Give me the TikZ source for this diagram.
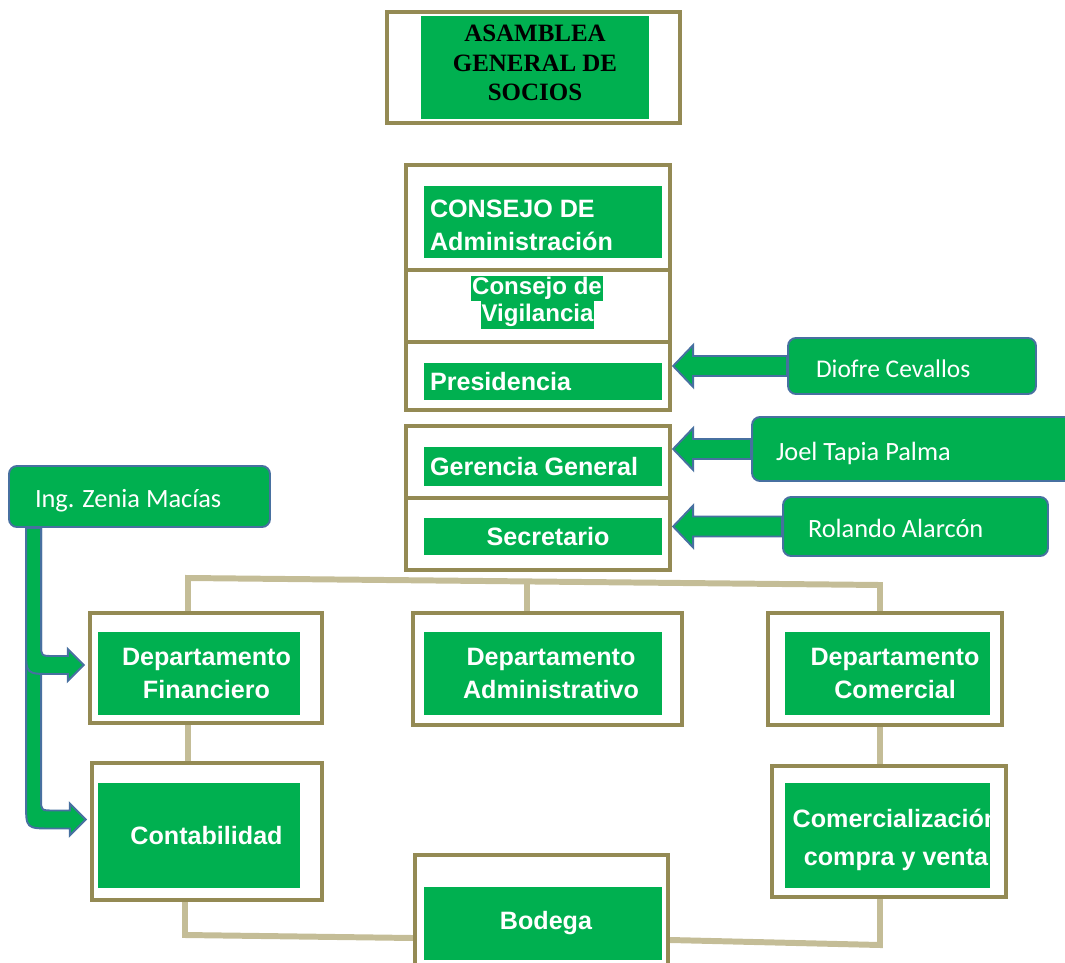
\documentclass[tikz,border=0pt]{standalone}
\usepackage{fontspec}
\usetikzlibrary{calc}
\newfontfamily\arialfont{Liberation Sans}
\newfontfamily\timesfont{Liberation Serif}
\newfontfamily\calibrifont{Carlito}
\definecolor{boxgreen}{RGB}{0,176,80}
\definecolor{frameolive}{RGB}{148,138,84}
\definecolor{linktan}{RGB}{196,189,151}
\definecolor{personblue}{RGB}{71,112,160}
\newcommand{\deptfont}{\arialfont\bfseries\fontsize{14.3}{18.5}\selectfont}
\newcommand{\vigfont}{\arialfont\bfseries\fontsize{13.7}{16}\selectfont}
\newcommand{\asamfont}{\timesfont\bfseries\fontsize{14.2}{16.8}\selectfont}
\newcommand{\namefont}{\calibrifont\fontsize{15}{18}\selectfont}
% block arrow from a name box to the left, onto a frame
\newcommand{\leftblock}[2]{%
  \draw[blockarr] ($(#1.west)+(0,-10)$) -- ($(#2.east |- #1.west)+(21,-10)$) -- ++(0,-11)
    -- ($(#2.east |- #1.west)+(1,0)$) -- ($(#2.east |- #1.west)+(21,21)$) -- ++(0,-11)
    -- ($(#1.west)+(0,10)$) -- cycle;}
% bent block arrow going down from a name box and then right, onto a frame
\newcommand{\bentblock}[3]{%
  \draw[blockarr] ($(#1.south west)+(18,0)$) -- ($(#1.south west |- #2.west)+(18,#3-16)$)
    .. controls ($(#1.south west |- #2.west)+(18,#3+9)$) .. ($(#1.south west |- #2.west)+(44,#3+9)$)
    -- ($(#2.west)+(-20,#3+9)$) -- ++(0,7) -- ($(#2.west)+(-4,#3)$) -- ($(#2.west)+(-20,#3-16)$) -- ++(0,7)
    -- ($(#1.south west |- #2.west)+(46,#3-9)$)
    .. controls ($(#1.south west |- #2.west)+(33,#3-9)$) .. ($(#1.south west |- #2.west)+(33,#3-20)$)
    -- ($(#1.south west)+(33,0)$) -- cycle;}
\begin{document}
\begin{tikzpicture}[x=0.02cm, y=-0.02cm,
    frame/.style={draw=frameolive, line width=2.5pt, fill=white, inner sep=0},
    greenbox/.style={fill=boxgreen, text=white, font=\deptfont, inner sep=0, align=center},
    leftbox/.style={greenbox, align=flush left, inner xsep=0.12cm, text width=4.52cm},
    person/.style={draw=personblue, line width=1.1pt, fill=boxgreen, rounded corners=0.16cm,
      text=white, font=\namefont, align=flush left, inner ysep=0, text height=15pt, text depth=2pt},
    link/.style={draw=linktan, line width=3.4pt},
    blockarr/.style={fill=boxgreen, draw=personblue, line width=1.1pt}]
    \clip (0,0) rectangle (1065,963);

    % Connectors between the departments
    \coordinate (busL) at (188,578);
    \coordinate (busM) at (527,581.5);
    \coordinate (busR) at (880,585);
    \coordinate (botL) at (185,935);
    \coordinate (botR) at (880,945);

    % Frames
    \node[frame, minimum width=5.86cm, minimum height=2.22cm] (asamF) at (533.5,67.5) {};
    \node[frame, minimum width=5.28cm, minimum height=2.1cm] (cadmF) at (538,217.5) {};
    \node[frame, minimum width=5.28cm, minimum height=1.44cm] (cvigF) at (538,306) {};
    \node[frame, minimum width=5.28cm, minimum height=1.36cm] (cpresF) at (538,376) {};
    \node[frame, minimum width=5.28cm, minimum height=1.44cm] (gerF) at (538,462) {};
    \node[frame, minimum width=5.28cm, minimum height=1.44cm] (secF) at (538,534) {};
    \node[frame, minimum width=4.64cm, minimum height=2.2cm] (finF) at (206,668) {};
    \node[frame, minimum width=5.38cm, minimum height=2.24cm] (admF) at (547.5,669) {};
    \node[frame, minimum width=4.68cm, minimum height=2.24cm] (comF) at (885,669) {};
    \node[frame, minimum width=4.6cm, minimum height=2.74cm] (contF) at (207,831.5) {};
    \node[frame, minimum width=4.68cm, minimum height=2.62cm] (comvF) at (889,831.5) {};
    \node[frame, minimum width=5.06cm, minimum height=2.9cm] (bodF) at (541.5,927.5) {};

    \draw[link] (finF.north -| busL) -- (busL) -- (busR) -- (comF.north -| busR);
    \draw[link] (busM) -- (busM |- admF.north);
    \draw[link] (finF.south -| busL) -- (contF.north -| busL);
    \draw[link] (comF.south -| busR) -- (comvF.north -| busR);
    \draw[link] (contF.south -| botL) -- (botL) -- ($(botL -| bodF.west)+(0,3)$);
    \draw[link] ($(botR -| bodF.east)+(0,-5)$) -- (botR) -- (comvF.south -| botR);

    % Green boxes
    \node[greenbox, text=black, font=\asamfont, minimum width=4.56cm, minimum height=2.06cm] (asam) at (535,67.5) {ASAMBLEA\\GENERAL DE\\SOCIOS\rule[-5pt]{0pt}{5pt}};
    \node[leftbox, minimum height=1.44cm] (cadm) at (543,222) {\rule{0pt}{13.5pt}CONSEJO DE\\[0.5pt]Administración};
    \node[greenbox, font=\vigfont, inner xsep=0.5pt, inner ysep=0.3pt, text height=10.3pt, text depth=3.3pt] (vig1) at (537,288.5) {Consejo de};
    \node[greenbox, font=\vigfont, inner xsep=0.5pt, inner ysep=1pt, text height=10.3pt, text depth=3.3pt] (vig2) at (537.5,315) {Vigilancia};
    \node[leftbox, minimum height=0.74cm] (cpres) at (543,381.5) {Presidencia};
    \node[leftbox, minimum height=0.78cm] (ger) at (543,466.5) {Gerencia General};
    \node[greenbox, minimum width=4.76cm, minimum height=0.74cm] (sec) at (543,536.5) {\hspace{0.2cm}Secretario};
    \node[greenbox, minimum width=4.04cm, minimum height=1.66cm] (fin) at (199,673.5) {\hspace{0.3cm}Departamento\\\hspace{0.3cm}Financiero};
    \node[greenbox, minimum width=4.76cm, minimum height=1.66cm] (adm) at (543,673.5) {\hspace{0.32cm}Departamento\\\hspace{0.32cm}Administrativo};
    \node[greenbox, minimum width=4.1cm, minimum height=1.66cm] (com) at (887.5,673.5) {\hspace{0.3cm}Departamento\\\hspace{0.3cm}Comercial};
    \node[greenbox, minimum width=4.04cm, minimum height=2.1cm] (cont) at (199,835.5) {\hspace{0.3cm}Contabilidad};
    \node[greenbox, minimum width=4.1cm, minimum height=2.1cm] (comv) at (887.5,835.5) {};
    \node[greenbox, minimum width=4.76cm, minimum height=1.46cm] (bod) at (543,923.5) {\hspace{0.12cm}Bodega};
    \begin{scope}
      \clip (comv.south west) rectangle (comv.north east);
      \node[greenbox, fill=none] (comvt) at (896,840) {Comercialización\\[3pt]compra y venta};
    \end{scope}

    % Names
    \node[person, text width=3.84cm, inner xsep=0.56cm, minimum height=1.12cm, font=\calibrifont\fontsize{14.5}{17}\selectfont] (dio) at (912,366) {Diofre Cevallos};
    \node[person, text width=5.5cm, inner xsep=0.48cm, minimum height=1.28cm] (joel) at (913.5,449) {Joel Tapia Palma};
    \node[person, text width=4.3cm, inner xsep=0.5cm, minimum height=1.18cm] (rol) at (915.5,526.5) {Rolando Alarcón};
    \node[person, text width=4.18cm, inner xsep=0.52cm, minimum height=1.22cm] (zen) at (139.5,496.5) {Ing. Zenia Macías};

    % Arrows
    \leftblock{dio}{cpresF}
    \leftblock{joel}{gerF}
    \leftblock{rol}{secF}
    \bentblock{zen}{contF}{-12}
    \bentblock{zen}{finF}{-3}
\end{tikzpicture}
\end{document}
